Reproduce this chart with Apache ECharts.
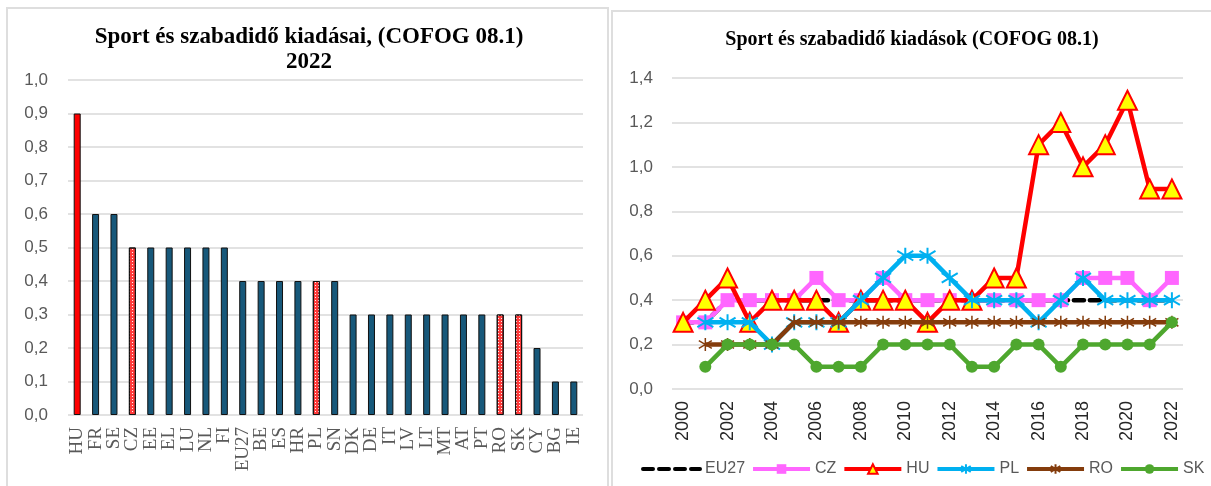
<!DOCTYPE html>
<html>
<head>
<meta charset="utf-8">
<script src="https://cdn.jsdelivr.net/npm/echarts@6/dist/echarts.min.js"></script>
<style>
  html, body { margin: 0; padding: 0; background: #fff; }
  #chart { width: 1211px; height: 486px; }
</style>
</head>
<body>
<div id="chart"></div>
<script>
// ---- Left chart data (2022) ----
const barCategories = ['HU','FR','SE','CZ','EE','EL','LU','NL','FI','EU27','BE','ES','HR','PL','SN','DK','DE','IT','LV','LT','MT','AT','PT','RO','SK','CY','BG','IE'];
const barValues = [0.9,0.6,0.6,0.5,0.5,0.5,0.5,0.5,0.5,0.4,0.4,0.4,0.4,0.4,0.4,0.3,0.3,0.3,0.3,0.3,0.3,0.3,0.3,0.3,0.3,0.2,0.1,0.1];
const barTicks = [0,0.1,0.2,0.3,0.4,0.5,0.6,0.7,0.8,0.9,1.0];

// ---- Right chart data (2000-2022) ----
const years = ['2000','2001','2002','2003','2004','2005','2006','2007','2008','2009','2010','2011','2012','2013','2014','2015','2016','2017','2018','2019','2020','2021','2022'];
const eu27 = [0.3,0.3,0.4,0.4,0.4,0.4,0.4,0.4,0.4,0.4,0.4,0.4,0.4,0.4,0.4,0.4,0.4,0.4,0.4,0.4,0.4,0.4,0.4];
const cz   = [0.3,0.3,0.4,0.4,0.4,0.4,0.5,0.4,0.4,0.5,0.4,0.4,0.4,0.4,0.4,0.4,0.4,0.4,0.5,0.5,0.5,0.4,0.5];
const hu   = [0.3,0.4,0.5,0.3,0.4,0.4,0.4,0.3,0.4,0.4,0.4,0.3,0.4,0.4,0.5,0.5,1.1,1.2,1.0,1.1,1.3,0.9,0.9];
const pl   = [null,0.3,0.3,0.3,0.2,0.3,0.3,0.3,0.4,0.5,0.6,0.6,0.5,0.4,0.4,0.4,0.3,0.4,0.5,0.4,0.4,0.4,0.4];
const ro   = [null,0.2,0.2,0.2,0.2,0.3,0.3,0.3,0.3,0.3,0.3,0.3,0.3,0.3,0.3,0.3,0.3,0.3,0.3,0.3,0.3,0.3,0.3];
const sk   = [null,0.1,0.2,0.2,0.2,0.2,0.1,0.1,0.1,0.2,0.2,0.2,0.2,0.1,0.1,0.2,0.2,0.1,0.2,0.2,0.2,0.2,0.3];
const lineTicks = [0,0.2,0.4,0.6,0.8,1.0,1.2,1.4];

// ---- styles ----
const hatchedCats = ['CZ','PL','RO','SK'];
const highlightCat = 'HU';
const tealColor = '#17587a';

const dotDecal = {
  symbol: 'rect', symbolSize: 1, color: 'rgba(255,255,255,0.95)',
  dashArrayX: [1, 2], dashArrayY: [1, 2], rotation: 0
};

const comma = v => v.toFixed(1).replace('.', ',');
const asterisk = 'path://M0,-1L0,1M-0.85,-0.6L0.85,0.6M-0.85,0.6L0.85,-0.6';

const barData = barValues.map((v, i) => {
  const cat = barCategories[i];
  if (cat === highlightCat) return { value: v, itemStyle: { color: '#ff0000' } };
  if (hatchedCats.indexOf(cat) >= 0) return { value: v, itemStyle: { color: '#ff3b3b', decal: dotDecal } };
  return { value: v, itemStyle: { color: tealColor } };
});

const chart = echarts.init(document.getElementById('chart'), null, { renderer: 'canvas' });

const gridLine = { show: true, lineStyle: { color: '#d9d9d9', width: 1.5 } };
const yLabel = { color: '#595959', fontSize: 17, fontFamily: 'Liberation Sans', margin: 20, formatter: comma };

function lineSeries(name, data, color, z, extra) {
  return Object.assign({
    name: name, type: 'line', data: data, xAxisIndex: 1, yAxisIndex: 1,
    z: z, color: color, showAllSymbol: true,
    lineStyle: { color: color, width: 4.5 },
    emphasis: { disabled: true }
  }, extra);
}

chart.setOption({
  animation: false,
  backgroundColor: '#fff',
  title: [
    {
      text: 'Sport és szabadidő kiadásai, (COFOG 08.1)\n2022',
      left: 309, top: 25, padding: 0, textAlign: 'center',
      textStyle: { fontFamily: 'Liberation Serif', fontWeight: 'bold', fontSize: 23, lineHeight: 25, color: '#000' }
    },
    {
      text: 'Sport és szabadidő kiadások (COFOG 08.1)',
      left: 912, top: 28, padding: 0, textAlign: 'center',
      textStyle: { fontFamily: 'Liberation Serif', fontWeight: 'bold', fontSize: 20, lineHeight: 24, color: '#000' }
    }
  ],
  graphic: [
    { type: 'polyline', shape: { points: [[7, 486], [7, 8], [608, 8], [608, 486]] }, style: { stroke: '#dedede', lineWidth: 2, fill: null }, silent: true },
    { type: 'polyline', shape: { points: [[612, 486], [612, 11], [1212, 11]] }, style: { stroke: '#dedede', lineWidth: 2, fill: null }, silent: true }
  ],
  legend: {
    left: 641, top: 461, padding: 0, width: 800, itemWidth: 57, itemHeight: 12, itemGap: 6,
    lineStyle: { width: 4 },
    textStyle: { color: '#595959', fontSize: 16, fontFamily: 'Liberation Sans' },
    data: [{ name: 'EU27', itemStyle: { opacity: 0 } }, 'CZ', 'HU', 'PL', 'RO', 'SK']
  },
  grid: [
    { left: 68, right: 628, top: 80, bottom: 71 },
    { left: 672, right: 28, top: 78, bottom: 97 }
  ],
  xAxis: [
    {
      gridIndex: 0, type: 'category', data: barCategories,
      axisLine: { show: false }, axisTick: { show: false },
      axisLabel: { interval: 0, rotate: 90, margin: 12, color: '#595959', fontSize: 19, fontFamily: 'Liberation Serif' }
    },
    {
      gridIndex: 1, type: 'category', data: years,
      axisLine: { show: false }, axisTick: { show: false },
      axisLabel: { interval: 1, rotate: 90, margin: 12, color: '#262626', fontSize: 18, fontFamily: 'Liberation Sans' }
    }
  ],
  yAxis: [
    {
      gridIndex: 0, type: 'value', min: barTicks[0], max: barTicks[barTicks.length - 1], interval: 0.1,
      axisLine: { show: false }, axisTick: { show: false }, splitLine: gridLine, axisLabel: yLabel
    },
    {
      gridIndex: 1, type: 'value', min: lineTicks[0], max: lineTicks[lineTicks.length - 1], interval: 0.2,
      axisLine: { show: false }, axisTick: { show: false }, splitLine: gridLine,
      axisLabel: Object.assign({}, yLabel, { margin: 19 })
    }
  ],
  series: [
    {
      type: 'bar', xAxisIndex: 0, yAxisIndex: 0, data: barData, barWidth: 7,
      itemStyle: { borderColor: '#111', borderWidth: 1 },
      emphasis: { disabled: true }
    },
    lineSeries('EU27', eu27, '#000000', 2, {
      symbol: 'none', lineStyle: { color: '#000', width: 4.5, type: [10, 6], cap: 'round' }
    }),
    lineSeries('CZ', cz, '#ff66ff', 3, {
      symbol: 'rect', symbolSize: 14, itemStyle: { color: '#ff66ff' }
    }),
    lineSeries('HU', hu, '#ff0000', 4, {
      symbol: 'triangle', symbolSize: 19, itemStyle: { color: '#ffff00', borderColor: '#ff0000', borderWidth: 2 }
    }),
    lineSeries('PL', pl, '#00b0f0', 5, {
      symbol: asterisk, symbolSize: 16, itemStyle: { color: '#00b0f0', borderColor: '#00b0f0', borderWidth: 2 }
    }),
    lineSeries('RO', ro, '#843c0c', 6, {
      symbol: asterisk, symbolSize: 13, itemStyle: { color: '#843c0c', borderColor: '#843c0c', borderWidth: 1.5 }
    }),
    lineSeries('SK', sk, '#4ea72e', 7, {
      symbol: 'circle', symbolSize: 12, itemStyle: { color: '#4ea72e' }
    })
  ]
});
</script>
</body>
</html>
